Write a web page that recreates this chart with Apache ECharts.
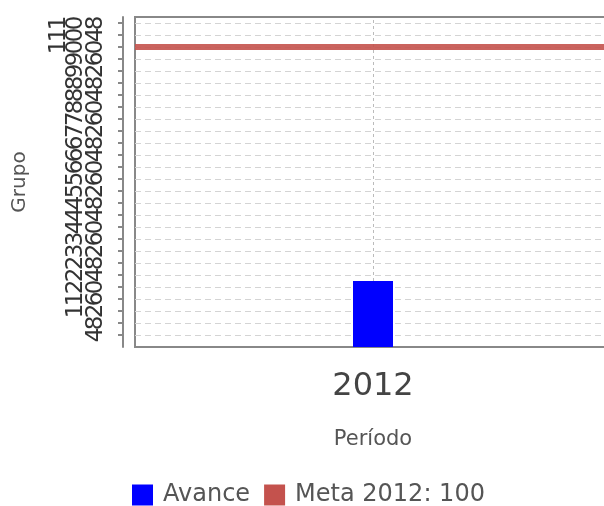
<!DOCTYPE html>
<html>
<head>
<meta charset="utf-8">
<script src="https://cdn.jsdelivr.net/npm/echarts@6/dist/echarts.min.js"></script>
<style>
  html, body { margin: 0; padding: 0; background: #fff; overflow: hidden; }
  #chart { width: 604px; height: 506px; }
</style>
</head>
<body>
<div id="chart"></div>
<script>
  // datos
  var periodos = ['2012'];
  var avance = [22];
  var meta = [100];
  var metaNombre = 'Meta 2012: ' + meta[0];

  var FONT = 'DejaVu Sans';

  // digito n (desde la derecha) de cada etiqueta del eje
  function digito(pos) {
    return function (v) {
      var s = String(v);
      return s.length > pos ? s.charAt(s.length - 1 - pos) : '';
    };
  }

  function ejeY(pos, margen, principal) {
    return {
      type: 'value',
      position: 'left',
      min: 0,
      max: 110,
      interval: 4,
      offset: 12,
      name: principal ? 'Grupo' : '',
      nameLocation: 'middle',
      nameGap: 93,
      nameTextStyle: { fontFamily: FONT, fontSize: 20, color: '#555' },
      axisLine: { show: principal, lineStyle: { color: '#888', width: 2 } },
      axisTick: { show: principal, length: 5, lineStyle: { color: '#888', width: 2 } },
      splitLine: {
        show: principal,
        showMinLine: false,
        showMaxLine: false,
        lineStyle: { color: '#d4d4d4', type: [6, 4], width: 1 }
      },
      axisLabel: {
        rotate: 90,
        margin: margen,
        hideOverlap: false,
        showMaxLabel: false,
        fontFamily: FONT,
        fontSize: 23,
        color: '#333',
        formatter: digito(pos)
      }
    };
  }

  var chart = echarts.init(document.getElementById('chart'));
  chart.setOption({
    animation: false,
    backgroundColor: '#fff',
    grid: {
      left: 135,
      top: 17,
      width: 476,
      height: 330,
      outerBoundsMode: 'none',
      show: true,
      backgroundColor: '#fff',
      borderColor: '#888',
      borderWidth: 2
    },
    legend: {
      left: 127,
      top: 478,
      itemWidth: 21,
      itemHeight: 21,
      itemGap: 14,
      textStyle: { fontFamily: FONT, fontSize: 24, color: '#555', padding: [0, 0, 0, 5] },
      data: [
        { name: 'Avance', icon: 'rect' },
        { name: metaNombre, icon: 'rect' }
      ]
    },
    xAxis: {
      type: 'category',
      data: periodos,
      offset: 10,
      name: 'Período',
      nameLocation: 'middle',
      nameGap: 72,
      nameTextStyle: { fontFamily: FONT, fontSize: 21, color: '#555' },
      axisLine: { lineStyle: { color: '#888', width: 2 } },
      axisTick: { show: false, alignWithLabel: true },
      splitLine: { show: false },
      axisLabel: { margin: 14, fontFamily: FONT, fontSize: 32, color: '#444' }
    },
    yAxis: [ejeY(0, 15, true), ejeY(1, 35, false), ejeY(2, 52, false)],
    series: [
      {
        name: 'Avance',
        type: 'bar',
        data: avance,
        barWidth: 40,
        itemStyle: { color: '#0000ff' },
        markLine: {
          silent: true,
          symbol: 'none',
          z: 1,
          label: { show: false },
          lineStyle: { color: '#bbb', type: [3, 3], width: 1 },
          data: [{ xAxis: periodos[0] }]
        }
      },
      {
        name: metaNombre,
        type: 'line',
        data: meta,
        symbol: 'none',
        itemStyle: { color: '#c4524d' },
        lineStyle: { color: '#c4524d' },
        markLine: {
          silent: true,
          symbol: 'none',
          label: { show: false },
          lineStyle: { color: '#c4524d', type: 'solid', width: 6, opacity: 0.9 },
          data: [{ yAxis: meta[0] }]
        }
      }
    ]
  });
</script>
</body>
</html>
